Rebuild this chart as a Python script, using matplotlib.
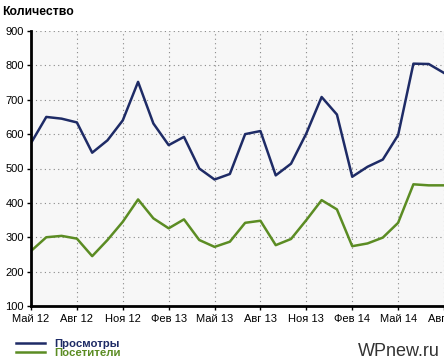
import numpy as np
import matplotlib; matplotlib.use("Agg")
import matplotlib.pyplot as plt

plt.rcParams["font.family"] = ["Liberation Sans", "DejaVu Sans"]

# ── Data (monthly, May 2012 – Aug 2014) ───────────────────────────────────────
months = np.arange(28)
tick_pos = np.arange(0, 28, 3)
tick_labels = ["Май 12", "Авг 12", "Ноя 12", "Фев 13", "Май 13",
               "Авг 13", "Ноя 13", "Фев 14", "Май 14", "Авг 14"]

views = [574, 650, 645, 634, 546, 582, 640, 752, 631, 568, 592, 500, 468, 484,
         600, 609, 480, 514, 602, 708, 657, 476, 505, 526, 597, 805, 804, 778]
visitors = [260, 300, 304, 296, 245, 292, 345, 410, 355, 326, 352, 292, 272, 287,
            342, 348, 277, 295, 350, 408, 381, 274, 282, 299, 342, 454, 451, 451]

BLUE = "#1e2b66"
GREEN = "#5b8c23"

# ── Plot ──────────────────────────────────────────────────────────────────────
fig = plt.figure(figsize=(4.44, 3.62), dpi=100)
ax = fig.add_axes([31 / 444, 56 / 362, 413 / 444, 275 / 362])
ax.set_facecolor("#f7f7f7")

ax.plot(months, views, color=BLUE, lw=1.8, label="Просмотры")
ax.plot(months, visitors, color=GREEN, lw=1.8, label="Посетители")

ax.set_xlim(0, 27 * 413 / 414)
ax.set_ylim(100, 900)
ax.set_xticks(tick_pos)
ax.set_xticklabels(tick_labels)
ax.set_yticks(np.arange(100, 1000, 100))
ax.tick_params(labelsize=8, length=3, width=1, pad=2, colors="black")
ax.tick_params(axis="x", pad=3)

ax.grid(True, color="#888888", ls=(0, (1, 3)), lw=0.8)
for s in ("top", "right"):
    ax.spines[s].set_visible(False)
for s in ("left", "bottom"):
    ax.spines[s].set_linewidth(2)

fig.text(2 / 444, 1 - 12 / 362, "Количество", fontsize=8.8, fontweight="bold",
         va="center", ha="left")

leg = fig.legend(loc="upper left", bbox_to_anchor=(10 / 444, 1 - 333 / 362),
                 frameon=False, fontsize=8.2, handlelength=2.6,
                 handletextpad=0.8, labelspacing=-0.05, borderpad=0)
for txt, c in zip(leg.get_texts(), (BLUE, GREEN)):
    txt.set_color(c)
    txt.set_fontweight("bold")

fig.text(440 / 444, 1 - 352 / 362, "WPnew.ru", fontsize=13, color="#333333",
         ha="right", va="center")

fig.savefig("out.png", dpi=100)
